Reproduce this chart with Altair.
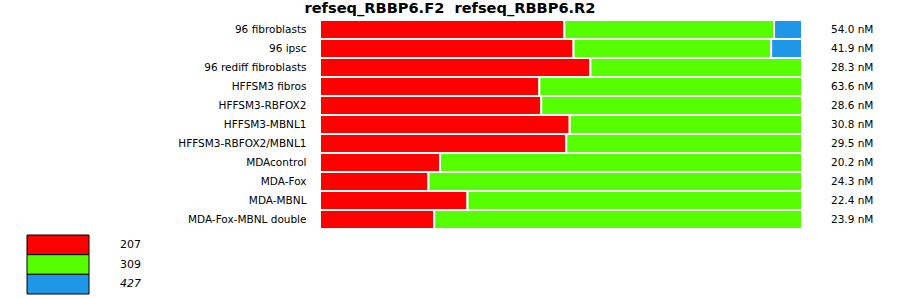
import altair as alt
import pandas as pd

samples = ["96 fibroblasts", "96 ipsc", "96 rediff fibroblasts", "HFFSM3 fibros",
           "HFFSM3-RBFOX2", "HFFSM3-MBNL1", "HFFSM3-RBFOX2/MBNL1", "MDAcontrol",
           "MDA-Fox", "MDA-MBNL", "MDA-Fox-MBNL double"]
series = ["207", "309", "427"]
italic_series = ["427"]
pct_207 = [50.7, 52.6, 56.1, 45.5, 45.9, 51.8, 51.1, 24.9, 22.5, 30.6, 23.7]
pct_309 = [43.5, 41.0, 43.9, 54.5, 54.1, 48.2, 48.9, 75.1, 77.5, 69.4, 76.3]
pct_427 = [5.8, 6.4, 0, 0, 0, 0, 0, 0, 0, 0, 0]
conc = ["54.0 nM", "41.9 nM", "28.3 nM", "63.6 nM", "28.6 nM", "30.8 nM",
        "29.5 nM", "20.2 nM", "24.3 nM", "22.4 nM", "23.9 nM"]
colors = ["#ff0000", "#55ff00", "#1f96e8"]

rows = []
for i, s in enumerate(samples):
    for k, vals in enumerate([pct_207, pct_309, pct_427]):
        if vals[i] > 0:
            rows.append({"sample": s, "series": series[k], "order": k, "pct": vals[i]})
bars_df = pd.DataFrame(rows)
conc_df = pd.DataFrame({"sample": samples, "conc": conc})
legend_df = pd.DataFrame({"series": series,
                          "italic": [s in italic_series for s in series]})

W, H = 482, 209
FONT = "DejaVu Sans"
color_scale = alt.Scale(domain=series, range=colors)

yenc = alt.Y("sample:N", sort=samples,
             scale=alt.Scale(paddingInner=0, paddingOuter=0),
             axis=alt.Axis(title=None, ticks=False, tickSize=0, domain=False,
                           labelPadding=14, labelFont=FONT, labelFontSize=10.5,
                           labelColor="#000000"))

bars = alt.Chart(bars_df).mark_bar(stroke="white", strokeWidth=2).encode(
    x=alt.X("pct:Q", stack="zero", scale=alt.Scale(domain=[0, 100], nice=False),
            axis=None),
    y=yenc,
    color=alt.Color("series:N", scale=color_scale, legend=None),
    order=alt.Order("order:Q"),
)

texts = alt.Chart(conc_df).mark_text(align="left", baseline="middle", font=FONT,
                                     fontSize=10.5, color="#000000").encode(
    y=alt.Y("sample:N", sort=samples),
    x=alt.value(511),
    text="conc:N",
)

# legend block below the plot (y positions relative to the plot's top edge)
ley = alt.Y("series:N", sort=series, axis=None,
            scale=alt.Scale(range=[215, 274], paddingInner=0, paddingOuter=0))

leg_rect = alt.Chart(legend_df).mark_rect(stroke="black", strokeWidth=1).encode(
    y=ley,
    x=alt.value(-293), x2=alt.value(-231),
    color=alt.Color("series:N", scale=color_scale, legend=None),
)
leg_text = alt.Chart(legend_df).transform_filter("!datum.italic").mark_text(
    align="left", baseline="middle", font=FONT, fontSize=11, color="#000000").encode(
    y=ley, x=alt.value(-200), text="series:N")
leg_text_it = alt.Chart(legend_df).transform_filter("datum.italic").mark_text(
    align="left", baseline="middle", font=FONT, fontSize=11, fontStyle="italic",
    color="#000000").encode(
    y=ley, x=alt.value(-200), text="series:N")

chart = alt.layer(
    alt.layer(bars, texts),
    alt.layer(leg_rect, leg_text, leg_text_it),
).resolve_scale(y="independent").properties(
    width=W, height=H,
    title=alt.TitleParams("refseq_RBBP6.F2\u00a0\u00a0refseq_RBBP6.R2", anchor="middle",
                          dx=-111, dy=15, offset=6, baseline="alphabetic", font=FONT,
                          fontSize=14.6, fontWeight="bold", color="#000000"),
    autosize=alt.AutoSizeParams(type="none"),
    padding={"left": 320, "top": 20, "right": 98, "bottom": 70},
).configure_view(stroke=None).configure(background="white")

chart.save("out.html", embed_options={"renderer": "svg", "actions": False})
